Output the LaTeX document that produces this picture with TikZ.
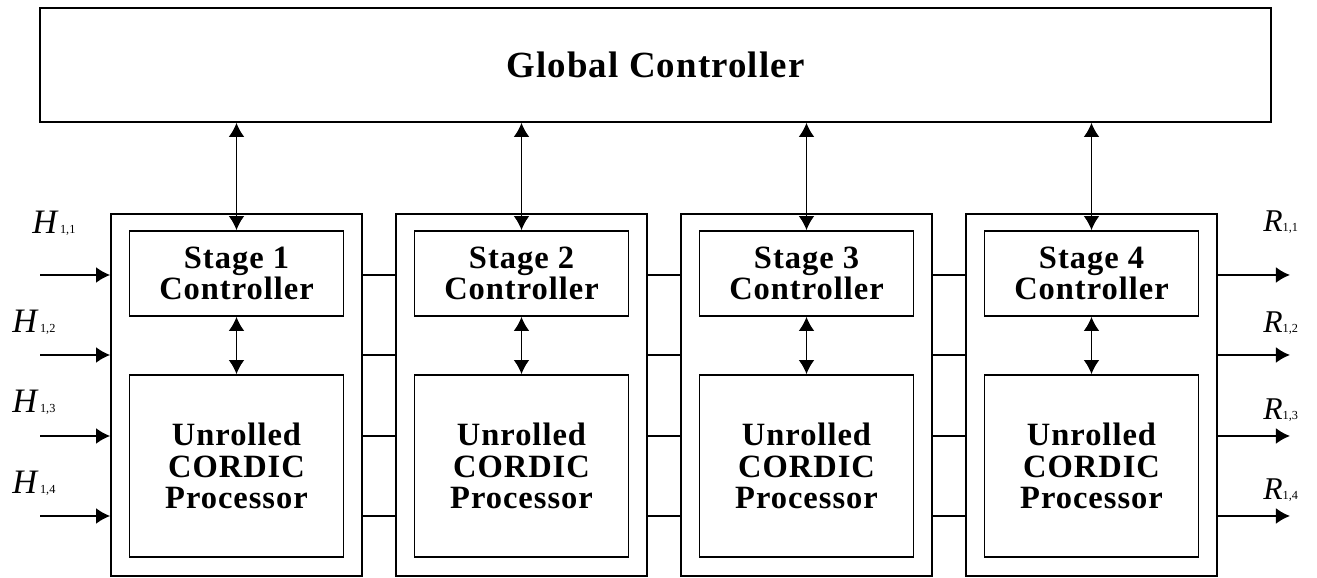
\documentclass[tikz,border=0pt]{standalone}
\usepackage{fontspec}
\setmainfont{Liberation Serif}
\usetikzlibrary{arrows.meta,positioning}
\tikzset{
  blockbox/.style={draw, line width=1pt, minimum width=4.28cm, align=center,
    font=\bfseries\addfontfeature{LetterSpace=3}\fontsize{18.5}{17.8}\selectfont},
  stagebox/.style={draw, line width=1pt, minimum width=5.02cm, minimum height=7.24cm},
  link/.style={line width=1pt, {Latex[length=8pt,width=9pt]}-{Latex[length=8pt,width=9pt]}},
  sig/.style={line width=1pt, -{Latex[length=8pt,width=9pt]}},
  wire/.style={line width=1pt},
  sigtag/.style={anchor=west, inner sep=0pt}
}
\newcommand{\sigH}[1]{{\fontsize{19.5}{19.5}\selectfont\itshape H}\,{\fontsize{7}{7}\selectfont #1}}
\newcommand{\sigR}[1]{{\fontsize{18}{18}\selectfont\itshape R}{\fontsize{7}{7}\selectfont #1}}
\begin{document}
\begin{tikzpicture}
  \useasboundingbox (0,0) rectangle (26.34,-11.56);
  % Draw global controller
  \node[draw, line width=1pt, minimum width=24.62cm, minimum height=2.28cm,
    font=\bfseries\addfontfeature{LetterSpace=3}\fontsize{21}{22}\selectfont] (gc) at (13.11,-1.3) {Global Controller};

  % Draw stages
  \foreach \i in {1,...,4} {
    \node[stagebox] (s\i) at ({4.73+5.7*(\i-1)},-7.9) {};
    \node[blockbox, minimum height=1.7cm] (c\i) at ({4.73+5.7*(\i-1)},-5.47) {Stage \i\\Controller};
    \node[blockbox, minimum height=3.64cm] (p\i) at ({4.73+5.7*(\i-1)},-9.32) {Unrolled\\CORDIC\\Processor};
    \draw[link] (c\i.north |- gc.south) -- (c\i.north);
    \draw[link] (c\i) -- (p\i);
  }

  % Draw wires between stages, inputs and outputs
  \foreach \y [count=\k] in {-5.5,-7.1,-8.72,-10.32} {
    \foreach \a/\b in {1/2,2/3,3/4}
      \draw[wire] (s\a.east |- 0,\y) -- (s\b.west |- 0,\y);
    \coordinate (in\k) at (0.8,\y);
    \coordinate (out\k) at (25.8,\y);
    \draw[sig] (in\k) -- (s1.west |- in\k);
    \draw[sig] (s4.east |- out\k) -- (out\k);
  }

  % Input and output labels
  \node[sigtag] (h1) at (0.64,-4.47) {\sigH{1,1}};
  \node[sigtag] (h2) at (0.24,-6.44) {\sigH{1,2}};
  \node[sigtag] (h3) at (0.24,-8.04) {\sigH{1,3}};
  \node[sigtag] (h4) at (0.24,-9.66) {\sigH{1,4}};
  \node[sigtag] (r1) at (25.26,-4.44) {\sigR{1,1}};
  \node[sigtag] (r2) at (25.26,-6.46) {\sigR{1,2}};
  \node[sigtag] (r3) at (25.26,-8.2) {\sigR{1,3}};
  \node[sigtag] (r4) at (25.26,-9.8) {\sigR{1,4}};
\end{tikzpicture}
\end{document}
